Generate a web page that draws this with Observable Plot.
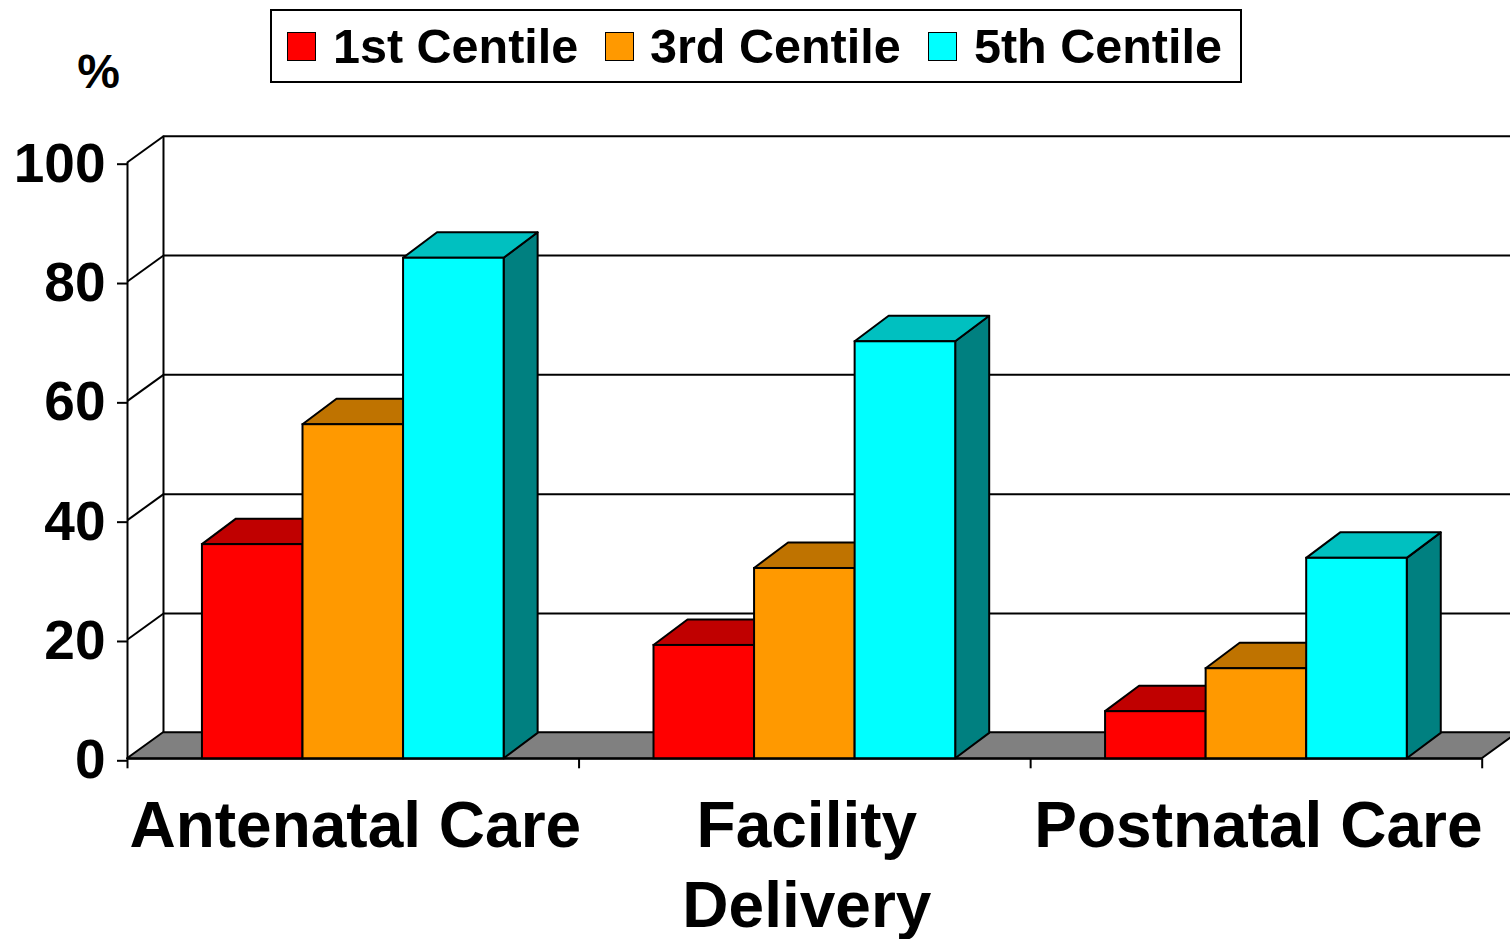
<!DOCTYPE html>
<html>
<head>
<meta charset="utf-8">
<script src="https://cdn.jsdelivr.net/npm/d3@7"></script>
<script src="https://cdn.jsdelivr.net/npm/@observablehq/plot@0.6"></script>
<style>
  html, body { margin: 0; padding: 0; background: #fff; overflow: hidden; }
  #wrap { position: relative; width: 1510px; height: 939px; font-family: "Liberation Sans", Arial, sans-serif; }
  #legend { position: absolute; left: 270px; top: 9px; width: 972px; height: 74px; border: 2px solid #000; box-sizing: border-box; background: #fff; }
  .sw { position: absolute; top: 21px; width: 27px; height: 27px; border: 1.5px solid #000; }
  .lt { position: absolute; top: 11px; font-size: 48.5px; font-weight: bold; line-height: 1; white-space: nowrap; color: #000; }
</style>
</head>
<body>
<div id="wrap"></div>
<script>
// ---- data ----
const categories = ["Antenatal Care", "Facility\nDelivery", "Postnatal Care"];
const seriesNames = ["1st Centile", "3rd Centile", "5th Centile"];
const firstCentile = [35.9, 19.0, 7.9];
const thirdCentile = [56.0, 31.9, 15.1];
const fifthCentile = [83.9, 69.9, 33.6];
const yTicks = [0, 20, 40, 60, 80, 100];

// ---- styles ----
const frontColors = ["#FF0000", "#FF9900", "#00FFFF"];
const topColors = ["#C00000", "#BF7300", "#00C0C0"];
const sideColors = ["#800000", "#804C00", "#008080"];
const seriesValues = [firstCentile, thirdCentile, fifthCentile];

// geometry in data units (x: category index, y: percent)
const barW = 0.2227;
const gap = (1 - 3 * barW) / 2;
const barDX = 0.0753, barDY = 4.27;   // bar depth
const wallDX = 0.0797, wallDY = 4.36; // wall depth
const nCat = categories.length;

const fronts = [], sides = [], tops = [];
categories.forEach((c, i) => {
  seriesNames.forEach((s, j) => {
    const v = seriesValues[j][i];
    const x0 = i + gap + j * barW, x1 = x0 + barW;
    const id = i + "-" + j;
    fronts.push({x1: x0, x2: x1, y1: 0, y2: v, fill: frontColors[j]});
    sides.push({id, x1: x1, y1: 0, x2: x1, y2: v, fill: sideColors[j]});
    sides.push({id, x1: x1 + barDX, y1: barDY, x2: x1 + barDX, y2: v + barDY, fill: sideColors[j]});
    tops.push({id, x1: x0, y1: v, x2: x1, y2: v, fill: topColors[j]});
    tops.push({id, x1: x0 + barDX, y1: v + barDY, x2: x1 + barDX, y2: v + barDY, fill: topColors[j]});
  });
});
const floor = [
  {x1: 0, y1: 0, x2: nCat, y2: 0},
  {x1: wallDX, y1: wallDY, x2: nCat + wallDX, y2: wallDY}
];
const labels = categories.map((c, i) => ({x: i + 0.5, text: c}));

const font = "Liberation Sans, Arial, sans-serif";
const chart = Plot.plot({
  width: 1510,
  height: 939,
  marginLeft: 127,
  marginRight: 28.3,
  marginTop: 161.7,
  marginBottom: 180.7,
  x: {domain: [0, nCat], axis: null},
  y: {domain: [0, 100], axis: null},
  color: {type: "identity"},
  style: {fontFamily: font, background: "transparent", overflow: "visible"},
  marks: [
    // back wall gridlines
    Plot.ruleY(yTicks.slice(1), {y: d => d + wallDY, x1: wallDX, x2: nCat + wallDX + 0.2, stroke: "#000", strokeWidth: 2}),
    Plot.ruleX([wallDX], {y1: wallDY, y2: 100 + wallDY, stroke: "#000", strokeWidth: 2}),
    Plot.link(yTicks.slice(1), {x1: 0, y1: d => d, x2: wallDX, y2: d => d + wallDY, stroke: "#000", strokeWidth: 2}),
    // floor
    Plot.area(floor, {x1: "x1", y1: "y1", x2: "x2", y2: "y2", fill: "#808080", stroke: "#000", strokeWidth: 2}),
    // bars
    Plot.area(sides, {x1: "x1", y1: "y1", x2: "x2", y2: "y2", z: "id", fill: "fill", stroke: "#000", strokeWidth: 2, strokeLinejoin: "round"}),
    Plot.area(tops, {x1: "x1", y1: "y1", x2: "x2", y2: "y2", z: "id", fill: "fill", stroke: "#000", strokeWidth: 2, strokeLinejoin: "round"}),
    Plot.rect(fronts, {x1: "x1", x2: "x2", y1: "y1", y2: "y2", fill: "fill", stroke: "#000", strokeWidth: 2}),
    // axes
    Plot.ruleX([0], {y1: 0, y2: 100, stroke: "#000", strokeWidth: 2}),
    Plot.ruleY([0], {x1: 0, x2: nCat, stroke: "#000", strokeWidth: 2}),
    Plot.axisY({ticks: yTicks, tickSize: 10, tickPadding: 12, fontSize: 55, fontWeight: "bold", stroke: "#000", strokeWidth: 2, fill: "#000", dy: 2}),
    Plot.axisX({ticks: [0, 1, 2, 3], tickSize: 10, tickFormat: () => "", stroke: "#000", strokeWidth: 2}),
    Plot.text(labels, {x: "x", y: 0, text: "text", lineAnchor: "top", dy: 31.5, dx: 2, lineHeight: 1.25, fontSize: 64, fontWeight: "bold", fill: "#000"}),
    Plot.text(["%"], {frameAnchor: "top-left", dx: -29, dy: -108, lineAnchor: "top", textAnchor: "middle", fontSize: 48, fontWeight: "bold", fill: "#000", text: d => d})
  ]
});
const wrap = document.getElementById("wrap");
wrap.appendChild(chart);
chart.style.position = "absolute";
chart.style.left = "0";
chart.style.top = "0";

// legend
const legend = document.createElement("div");
legend.id = "legend";
const swX = [15, 333, 656];
const txX = [61, 378, 702];
seriesNames.forEach((s, j) => {
  const sw = document.createElement("div");
  sw.className = "sw";
  sw.style.left = swX[j] + "px";
  sw.style.background = frontColors[j];
  legend.appendChild(sw);
  const t = document.createElement("span");
  t.className = "lt";
  t.style.left = txX[j] + "px";
  t.textContent = s;
  legend.appendChild(t);
});
wrap.appendChild(legend);
</script>
</body>
</html>
